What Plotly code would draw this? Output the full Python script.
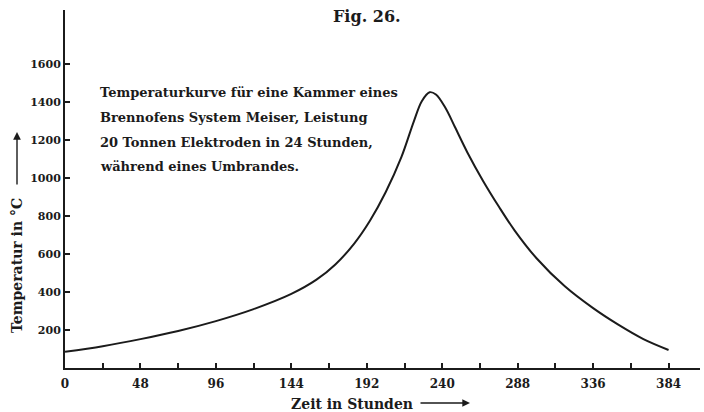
import plotly.graph_objects as go

# Temperature curve of one kiln chamber during a firing cycle
hours = [0, 24, 48, 72, 96, 120, 144, 160, 172, 184, 194, 204, 214, 222, 227,
         232, 236, 242, 248, 256, 266, 276, 286, 300, 318, 336, 352, 368, 384]
temps = [85, 115, 152, 195, 247, 310, 390, 465, 545, 655, 775, 925, 1110, 1300,
         1405, 1452, 1440, 1370, 1270, 1135, 985, 850, 725, 578, 430, 315, 228,
         152, 95]

x_ticks = [0, 48, 96, 144, 192, 240, 288, 336, 384]
y_ticks = [200, 400, 600, 800, 1000, 1200, 1400, 1600]

note_lines = [
    "Temperaturkurve für eine Kammer eines",
    "Brennofens System Meiser, Leistung",
    "20 Tonnen Elektroden in 24 Stunden,",
    "während eines Umbrandes.",
]

W, H = 704, 412
ML, MR, MT, MB = 65, 4, 10, 44
X_MAX, Y_MAX = 404, 1885

SERIF = "DejaVu Serif, Liberation Serif, serif"
INK = "#1b1b1b"


def px_to_paper(px, py):
    return (px - ML) / (W - ML - MR), (H - MB - py) / (H - MT - MB)


def label(px, py, text, size, anchor="center", angle=0):
    x, y = px_to_paper(px, py)
    return dict(x=x, y=y, xref="paper", yref="paper", text=text, showarrow=False,
                xanchor=anchor, yanchor="middle", textangle=angle,
                font=dict(family=SERIF, size=size, color=INK, weight="bold"))


def arrow(x0, y0, x1, y1):
    # arrow from pixel (x0, y0) to tip at pixel (x1, y1)
    x, y = px_to_paper(x1, y1)
    return dict(x=x, y=y, xref="paper", yref="paper", text="", showarrow=True,
                ax=x0 - x1, ay=y0 - y1, axref="pixel", ayref="pixel",
                arrowhead=2, arrowsize=1.1, arrowwidth=1.4, arrowcolor=INK,
                standoff=0, startstandoff=0)


fig = go.Figure()
fig.add_trace(go.Scatter(
    x=hours, y=temps, mode="lines",
    line=dict(color=INK, width=2, shape="spline", smoothing=1.0),
    hoverinfo="skip", showlegend=False,
))

annotations = [label(367, 17, "Fig. 26.", 16)]
for i, line in enumerate(note_lines):
    annotations.append(label(98, 93 + i * 24.5, line, 13, anchor="left"))
annotations.append(label(17, 266, "Temperatur in °C", 14, angle=-90))
annotations.append(arrow(17, 186, 17, 132))
annotations.append(label(352, 404, "Zeit in Stunden", 14))
annotations.append(arrow(419, 403, 470, 403))

fig.update_layout(
    width=W, height=H,
    margin=dict(l=ML, r=MR, t=MT, b=MB),
    paper_bgcolor="white", plot_bgcolor="white",
    annotations=annotations,
    xaxis=dict(
        range=[0, X_MAX], tickvals=x_ticks, ticktext=[str(v) for v in x_ticks],
        ticks="inside", ticklen=5, tickwidth=1.5, tickcolor=INK,
        minor=dict(dtick=24, tick0=0, ticks="inside", ticklen=5, tickwidth=1.5, tickcolor=INK),
        showline=True, linecolor=INK, linewidth=2, showgrid=False, zeroline=False,
        tickfont=dict(family=SERIF, size=12, color=INK, weight="bold"),
        ticklabelstandoff=4,
    ),
    yaxis=dict(
        range=[0, Y_MAX], tickvals=y_ticks, ticktext=[str(v) for v in y_ticks],
        ticks="inside", ticklen=5, tickwidth=1.5, tickcolor=INK,
        showline=True, linecolor=INK, linewidth=2, showgrid=False, zeroline=False,
        tickfont=dict(family=SERIF, size=11, color=INK, weight="bold"),
    ),
)

fig.write_html("out.html")
